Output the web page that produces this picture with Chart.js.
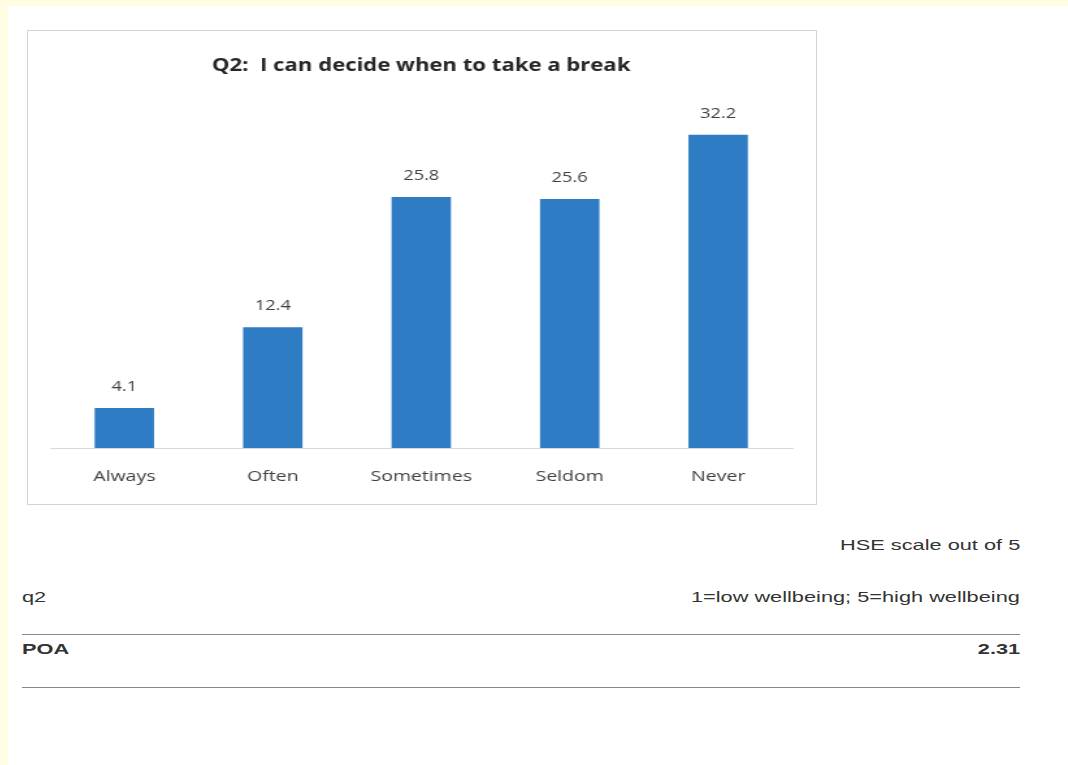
<!DOCTYPE html>
<html>
<head>
<meta charset="utf-8">
<script src="https://cdn.jsdelivr.net/npm/chart.js@4.4.0/dist/chart.umd.min.js"></script>
<style>
    html, body { margin: 0; padding: 0; }
    body {
        width: 1068px; height: 765px;
        background: #fffce3;
        position: relative;
        overflow: hidden;
        font-family: "Liberation Sans", Arial, sans-serif;
    }
    .page {
        position: absolute; left: 8px; top: 6px; right: 0; bottom: 0;
        background: #ffffff;
    }
    .chart-box {
        position: absolute; left: 27px; top: 30px;
        width: 788px; height: 473px;
        border: 1px solid #d4d4d4;
        background: #fff;
        overflow: hidden;
    }
    /* the source picture is stretched sideways, so stretch the canvas the same way */
    #q2Chart { transform: scaleX(1.3); transform-origin: 0 0; }
    .txt { position: absolute; font-size: 15px; color: #333; white-space: nowrap; }
    .left { left: 22px; transform: scaleX(1.45); transform-origin: 0 50%; }
    .right { right: 48px; text-align: right; transform: scaleX(1.45); transform-origin: 100% 50%; }
    .rule { position: absolute; left: 22px; width: 998px; height: 0; border-top: 1px solid #888; }
</style>
</head>
<body>
<div class="page"></div>
<div class="chart-box"><canvas id="q2Chart" width="606" height="473"></canvas></div>

<div class="txt right" style="top: 536px;">HSE scale out of 5</div>
<div class="txt left" style="top: 588px;">q2</div>
<div class="txt right" style="top: 588px;">1=low wellbeing; 5=high wellbeing</div>
<div class="rule" style="top: 634px;"></div>
<div class="txt left" style="top: 640px; font-weight: bold;">POA</div>
<div class="txt right" style="top: 640px; font-weight: bold;">2.31</div>
<div class="rule" style="top: 687px;"></div>

<script>
// Chart data
const categories = ['Always', 'Often', 'Sometimes', 'Seldom', 'Never'];
const percentValues = [4.1, 12.4, 25.8, 25.6, 32.2];
const chartTitle = 'Q2:  I can decide when to take a break';

// Draw value labels above each bar
const valueLabels = {
    id: 'valueLabels',
    afterDatasetsDraw(chart) {
        const ctx = chart.ctx;
        const meta = chart.getDatasetMeta(0);
        ctx.save();
        ctx.font = '14px "Open Sans", sans-serif';
        ctx.fillStyle = '#404040';
        ctx.textAlign = 'center';
        ctx.textBaseline = 'bottom';
        meta.data.forEach((bar, i) => {
            ctx.fillText(percentValues[i].toFixed(1), bar.x, bar.y - 14);
        });
        ctx.restore();
    }
};

const ctx = document.getElementById('q2Chart').getContext('2d');
new Chart(ctx, {
    type: 'bar',
    data: {
        labels: categories,
        datasets: [{
            data: percentValues,
            backgroundColor: '#2e7cc3',
            borderWidth: 0,
            categoryPercentage: 1.0,
            barPercentage: 0.4
        }]
    },
    options: {
        responsive: false,
        animation: false,
        layout: { padding: { left: 17, right: 18, top: 0, bottom: 6 } },
        plugins: {
            legend: { display: false },
            tooltip: { enabled: false },
            title: {
                display: true,
                text: chartTitle,
                color: '#262626',
                font: { family: '"Open Sans", sans-serif', size: 17, weight: 'bold' },
                padding: { top: 25, bottom: 31 }
            }
        },
        scales: {
            y: {
                display: false,
                min: 0,
                max: 35
            },
            x: {
                grid: { display: false },
                border: { color: '#d9d9d9', width: 1 },
                ticks: {
                    color: '#404040',
                    font: { family: '"Open Sans", sans-serif', size: 15 },
                    padding: 12
                }
            }
        }
    },
    plugins: [valueLabels]
});
</script>
</body>
</html>
